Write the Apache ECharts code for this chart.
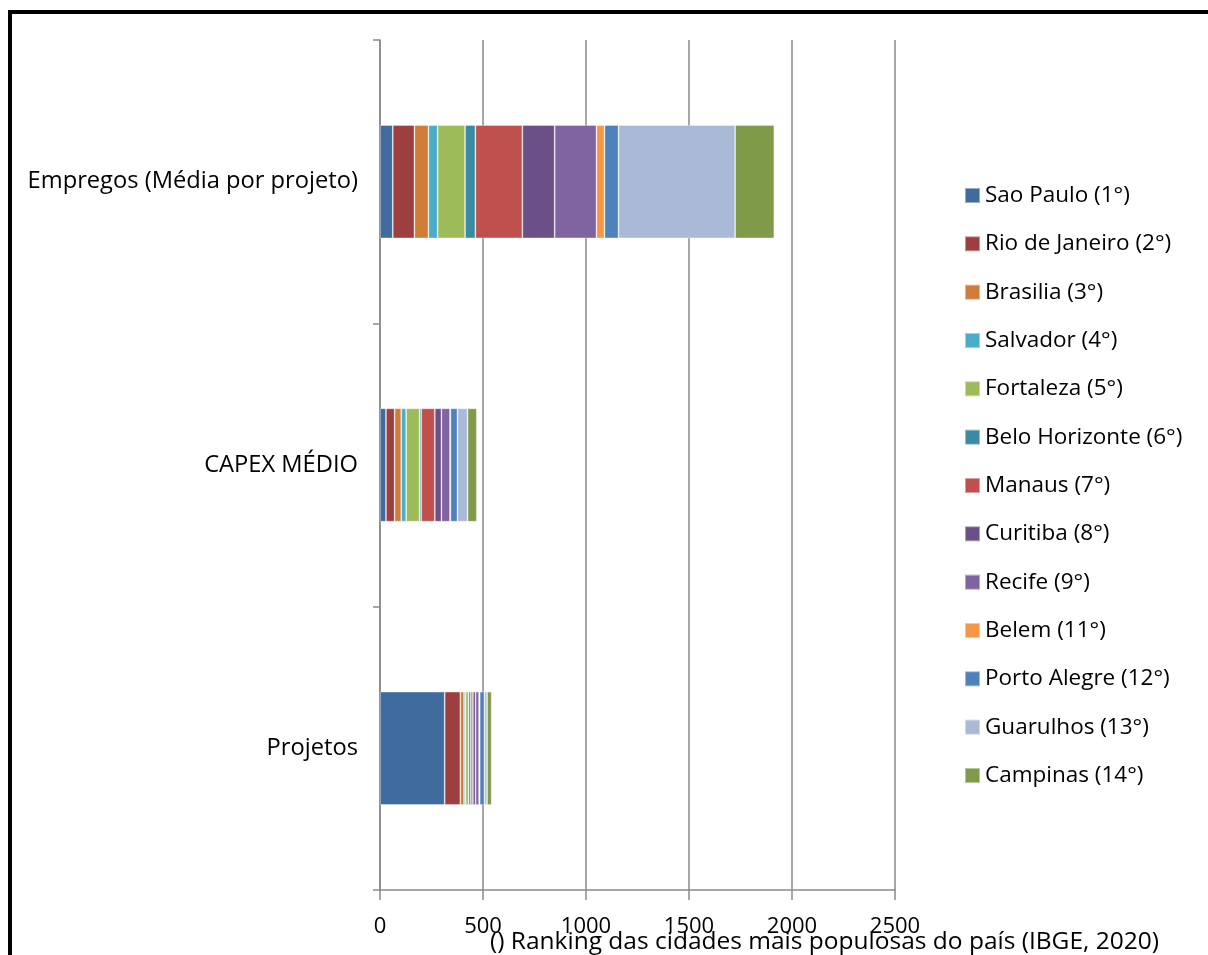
<!DOCTYPE html>
<html>
<head>
<meta charset="utf-8">
<script src="https://cdn.jsdelivr.net/npm/echarts@6/dist/echarts.min.js"></script>
<style>
  html, body { margin: 0; padding: 0; background: #fff; }
  #chart { width: 1208px; height: 955px; }
</style>
</head>
<body>
<div id="chart"></div>
<script>
// Categories on the vertical axis (bottom to top)
const categories = ['Projetos', 'CAPEX MÉDIO', 'Empregos (Média por projeto)'];

// Cities (ranking by population) and their colours
const cities = [
  'Sao Paulo (1°)', 'Rio de Janeiro (2°)', 'Brasilia (3°)', 'Salvador (4°)',
  'Fortaleza (5°)', 'Belo Horizonte (6°)', 'Manaus (7°)', 'Curitiba (8°)',
  'Recife (9°)', 'Belem (11°)', 'Porto Alegre (12°)', 'Guarulhos (13°)', 'Campinas (14°)'
];
const colors = [
  '#3F6B9E', '#9D3F3E', '#CF7C38', '#4BADC7', '#9DBB59', '#3A8BA1',
  '#C0504D', '#6A5087', '#8064A2', '#F79646', '#4F81BD', '#AAB9D6', '#7F9A48'
];

// Values per city: [Projetos, CAPEX MÉDIO, Empregos]
const saoPaulo      = [314, 29, 62];
const rioDeJaneiro  = [76, 42, 105];
const brasilia      = [18, 32, 68];
const salvador      = [8, 24, 45];
const fortaleza     = [14, 65, 133];
const beloHorizonte = [11, 8, 50];
const manaus        = [10, 66, 228];
const curitiba      = [13, 32, 157];
const recife        = [17, 42, 203];
const belem         = [3, 2, 39];
const portoAlegre   = [23, 34, 68];
const guarulhos     = [13, 49, 566];
const campinas      = [22, 45, 190];

const cityValues = [
  saoPaulo, rioDeJaneiro, brasilia, salvador, fortaleza, beloHorizonte,
  manaus, curitiba, recife, belem, portoAlegre, guarulhos, campinas
];

const xTicks = { min: 0, max: 2500, interval: 500 };

const textFont = 'Open Sans';
const chart = echarts.init(document.getElementById('chart'), null, { renderer: 'canvas' });

const series = cities.map((name, i) => ({
  name: name,
  type: 'bar',
  stack: 'total',
  barCategoryGap: '60%',
  data: cityValues[i],
  itemStyle: {
    color: colors[i],
    borderColor: 'rgba(255,255,255,0.45)',
    borderWidth: 0.8
  },
  emphasis: { disabled: true }
}));

chart.setOption({
  animation: false,
  backgroundColor: '#ffffff',
  textStyle: { fontFamily: textFont, color: '#000' },
  grid: { left: 380, right: 313, top: 40, bottom: 65, containLabel: false },
  legend: {
    orient: 'vertical',
    left: 964,
    top: 183.5,
    padding: 0,
    itemWidth: 15,
    itemHeight: 15,
    itemGap: 24.33,
    icon: 'rect',
    data: cities,
    textStyle: { fontFamily: textFont, fontSize: 22.5, color: '#000', lineHeight: 24, padding: [0, 0, 0, 0] },
    selectedMode: false
  },
  xAxis: {
    type: 'value',
    min: xTicks.min,
    max: xTicks.max,
    interval: xTicks.interval,
    axisLine: { show: true, lineStyle: { color: '#8a8a8a', width: 1.5 } },
    axisTick: { show: true, inside: false, length: 10, lineStyle: { color: '#8a8a8a', width: 1.5 } },
    splitLine: { show: true, lineStyle: { color: '#8a8a8a', width: 1.5 } },
    axisLabel: {
      fontFamily: textFont, fontSize: 22, color: '#000', margin: 26,
      formatter: (v) => String(v)
    }
  },
  yAxis: {
    type: 'category',
    data: categories,
    axisLine: { show: true, lineStyle: { color: '#8a8a8a', width: 1.5 } },
    axisTick: { show: true, length: 7, lineStyle: { color: '#8a8a8a', width: 1.5 } },
    axisLabel: { fontFamily: textFont, fontSize: 23.7, color: '#000', margin: 22 }
  },
  graphic: [
    {
      type: 'rect',
      shape: { x: 10, y: 12, width: 1240, height: 1000 },
      style: { fill: 'none', stroke: '#000', lineWidth: 4 },
      silent: true
    },
    {
      type: 'text',
      left: 490,
      top: 930,
      style: {
        text: '() Ranking das cidades mais populosas do país (IBGE, 2020)',
        font: '24.5px "Open Sans"',
        fill: '#000'
      },
      silent: true
    }
  ],
  series: series
});
</script>
</body>
</html>
